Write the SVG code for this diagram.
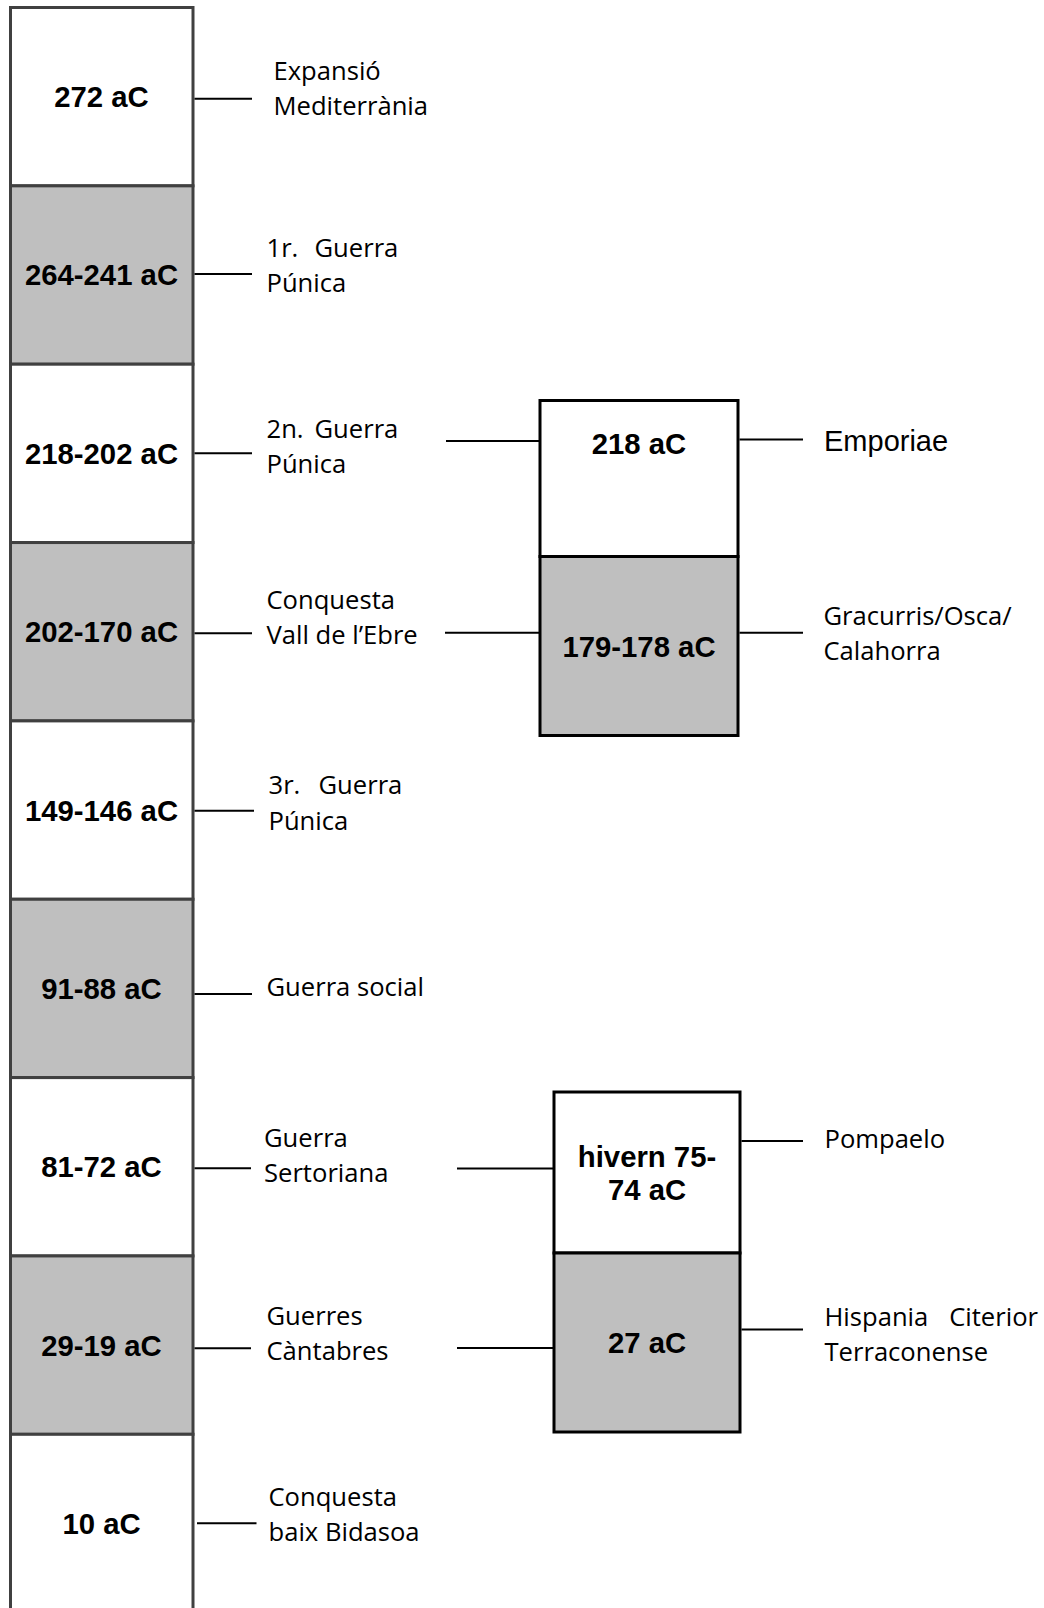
<svg xmlns="http://www.w3.org/2000/svg" width="1044" height="1608" viewBox="0 0 1044 1608">
<style>
.cell{stroke:#404040;stroke-width:3}
.w{fill:#ffffff}
.g{fill:#bfbfbf}
.box{stroke:#000;stroke-width:3}
.date{font-family:"Liberation Sans",Arial,sans-serif;font-weight:bold;font-size:29.3px;fill:#000;text-anchor:middle}
.lbl{font-family:"Open Sans","Noto Sans",sans-serif;font-size:25.6px;fill:#000}
.lbl2{font-family:"Liberation Sans",Arial,sans-serif;font-size:29px;fill:#000}
.con{stroke:#000;stroke-width:2;fill:none}
</style>
<rect width="1044" height="1608" fill="#fff"/>
<g id="timeline">
<g id="n272"><rect class="cell w" x="10.5" y="7.5" width="182.5" height="178.35"/><text class="date" x="101.5" y="107">272 aC</text></g>
<g id="n264"><rect class="cell g" x="10.5" y="185.85" width="182.5" height="178.35"/><text class="date" x="101.5" y="285">264-241 aC</text></g>
<g id="n218"><rect class="cell w" x="10.5" y="364.2" width="182.5" height="178.35"/><text class="date" x="101.5" y="463.5">218-202 aC</text></g>
<g id="n202"><rect class="cell g" x="10.5" y="542.55" width="182.5" height="178.35"/><text class="date" x="101.5" y="642">202-170 aC</text></g>
<g id="n149"><rect class="cell w" x="10.5" y="720.9" width="182.5" height="178.35"/><text class="date" x="101.5" y="820.5">149-146 aC</text></g>
<g id="n91"><rect class="cell g" x="10.5" y="899.25" width="182.5" height="178.35"/><text class="date" x="101.5" y="998.5">91-88 aC</text></g>
<g id="n81"><rect class="cell w" x="10.5" y="1077.6" width="182.5" height="178.35"/><text class="date" x="101.5" y="1177">81-72 aC</text></g>
<g id="n29"><rect class="cell g" x="10.5" y="1255.95" width="182.5" height="178.35"/><text class="date" x="101.5" y="1355.5">29-19 aC</text></g>
<g id="n10"><rect class="cell w" x="10.5" y="1434.3" width="182.5" height="190"/><text class="date" x="101.5" y="1534">10 aC</text></g>
</g>
<g id="labels">
<g id="l1"><text class="lbl" x="273.5" y="80">Expansió</text><text class="lbl" x="273.5" y="115">Mediterrània</text></g>
<g id="l2"><text class="lbl" x="266.5" y="256.5">1r.</text><text class="lbl" x="314.5" y="256.5">Guerra</text><text class="lbl" x="266.5" y="291.5">Púnica</text></g>
<g id="l3"><text class="lbl" x="266.5" y="437.5">2n.</text><text class="lbl" x="314.5" y="437.5">Guerra</text><text class="lbl" x="266.5" y="472.5">Púnica</text></g>
<g id="l4"><text class="lbl" x="266.5" y="608.5">Conquesta</text><text class="lbl" x="266.5" y="644">Vall de l’Ebre</text></g>
<g id="l5"><text class="lbl" x="268.5" y="794">3r.</text><text class="lbl" x="318.5" y="794">Guerra</text><text class="lbl" x="268.5" y="829.5">Púnica</text></g>
<g id="l6"><text class="lbl" x="266.5" y="995.5">Guerra social</text></g>
<g id="l7"><text class="lbl" x="264" y="1146.5">Guerra</text><text class="lbl" x="264" y="1181.5">Sertoriana</text></g>
<g id="l8"><text class="lbl" x="266.5" y="1325">Guerres</text><text class="lbl" x="266.5" y="1360">Càntabres</text></g>
<g id="l9"><text class="lbl" x="268.5" y="1506">Conquesta</text><text class="lbl" x="268.5" y="1541">baix Bidasoa</text></g>
</g>
<g id="box1">
<rect class="box w" x="540" y="400.5" width="198" height="156"/>
<rect class="box g" x="540" y="556.5" width="198" height="179"/>
<text class="date" x="639" y="453.5">218 aC</text>
<text class="date" x="639" y="656.5">179-178 aC</text>
</g>
<g id="box2">
<rect class="box w" x="554" y="1092" width="186" height="161"/>
<rect class="box g" x="554" y="1253" width="186" height="179"/>
<text class="date" x="647" y="1167">hivern 75-</text>
<text class="date" x="647" y="1199.5">74 aC</text>
<text class="date" x="647" y="1353">27 aC</text>
</g>
<g id="rlabels">
<g id="r1"><text class="lbl2" x="824" y="451">Emporiae</text></g>
<g id="r2"><text class="lbl" x="823.5" y="625">Gracurris/Osca/</text><text class="lbl" x="823.5" y="660">Calahorra</text></g>
<g id="r3"><text class="lbl" x="824.5" y="1147.5">Pompaelo</text></g>
<g id="r4"><text class="lbl" x="824.5" y="1326">Hispania</text><text class="lbl" x="1038" y="1326" text-anchor="end">Citerior</text><text class="lbl" x="824.5" y="1361">Terraconense</text></g>
</g>
<g id="connectors">
<line class="con" x1="194.5" y1="98.7" x2="252" y2="98.7"/>
<line class="con" x1="194.5" y1="274" x2="252" y2="274"/>
<line class="con" x1="194.5" y1="453.3" x2="252" y2="453.3"/>
<line class="con" x1="194.5" y1="633.3" x2="252" y2="633.3"/>
<line class="con" x1="194.5" y1="810.7" x2="254" y2="810.7"/>
<line class="con" x1="194.5" y1="994" x2="252" y2="994"/>
<line class="con" x1="194.5" y1="1168.3" x2="251" y2="1168.3"/>
<line class="con" x1="194.5" y1="1348.3" x2="251" y2="1348.3"/>
<line class="con" x1="197" y1="1523.3" x2="256.5" y2="1523.3"/>
<line class="con" x1="446" y1="441" x2="540" y2="441"/>
<line class="con" x1="445" y1="632.7" x2="540" y2="632.7"/>
<line class="con" x1="457" y1="1168.5" x2="554" y2="1168.5"/>
<line class="con" x1="457" y1="1348" x2="554" y2="1348"/>
<line class="con" x1="739.5" y1="439.5" x2="803" y2="439.5"/>
<line class="con" x1="739.5" y1="632.7" x2="803" y2="632.7"/>
<line class="con" x1="741.5" y1="1141" x2="803" y2="1141"/>
<line class="con" x1="741.5" y1="1329.5" x2="803" y2="1329.5"/>
</g>
</svg>
